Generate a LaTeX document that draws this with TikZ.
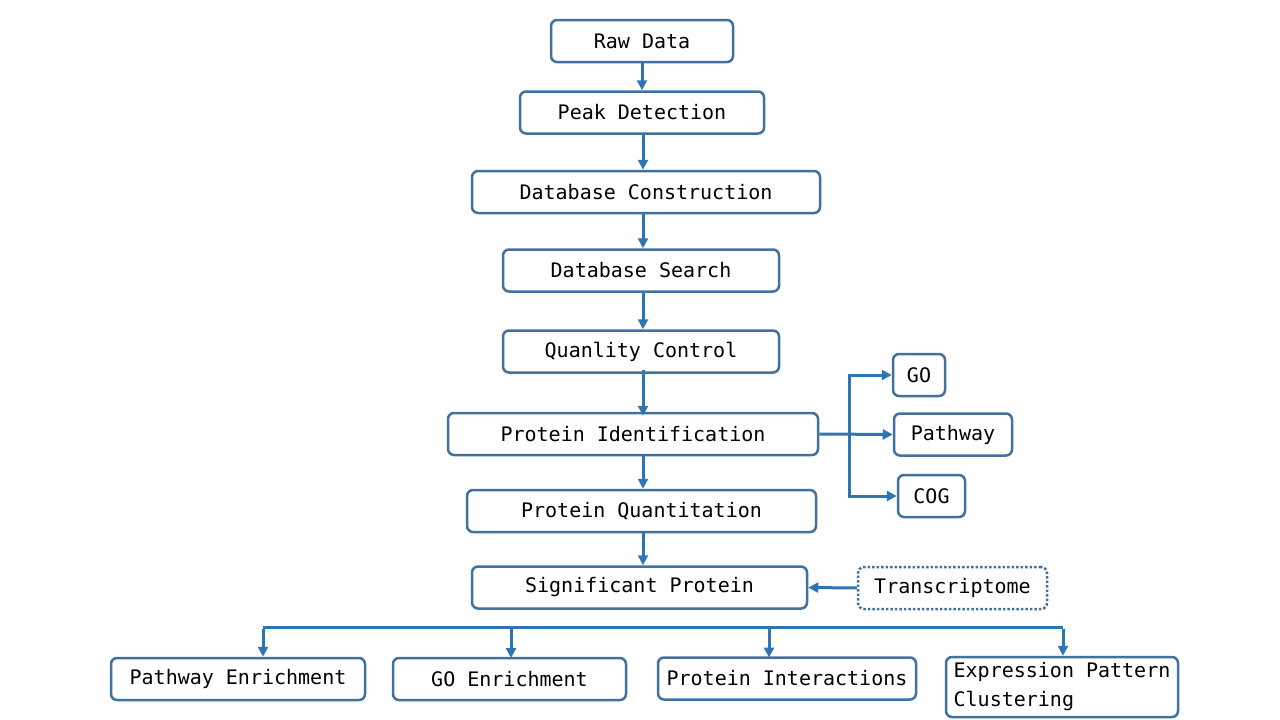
\documentclass[tikz,border=0pt]{standalone}
\usepackage{fontspec}
\setmonofont{DejaVu Sans Mono}
\usepackage{tikz}
\usetikzlibrary{arrows.meta}
\usetikzlibrary{positioning}
\usetikzlibrary{calc}
\definecolor{boxline}{HTML}{41719C}
\definecolor{arrline}{HTML}{2E75B6}
\tikzset{
  flownode/.style = {align=center, inner sep=0pt, text centered,
    font=\ttfamily\fontsize{20}{29}\selectfont},
  fbox/.style = {flownode, rectangle, rounded corners=6pt, draw=boxline,
    line width=2.5pt, minimum height=42pt, fill=white},% boite pleine
  fbox_d/.style = {fbox, dotted, line width=2.5pt},% boite pointillee
  farr/.style = {draw=arrline, line width=3pt, -{Triangle[length=10pt,width=10pt]}}
}

\begin{document}
\begin{tikzpicture}[x=1pt,y=-1pt]
\useasboundingbox (0,0) rectangle (1280,720);

\node [fbox, minimum width=182pt] (raw) at (642,41) {Raw Data};
\node [fbox, minimum width=244pt] (peak) at (642,112.5) {Peak Detection};
\node [fbox, minimum width=348pt] (dbc) at (646,192) {Database Construction};
\node [fbox, minimum width=276pt] (dbs) at (641,270.5) {Database Search};
\node [fbox, minimum width=276pt] (qc) at (641,351.5) {Quanlity Control};
\node [fbox, minimum width=370pt] (pid) at (633,434) {Protein Identification};
\node [fbox, minimum width=349pt] (pq) at (641.5,511) {Protein Quantitation};
\node [fbox, minimum width=335pt] (sig) at (639.5,587.5) {Significant Protein};
\node [fbox_d, minimum width=189pt] (trans) at (952.5,588) {Transcriptome};

\node [fbox, minimum width=52pt] (go) at (919,375) {GO};
\node [fbox, minimum width=118pt] (path) at (953,434.5) {Pathway};
\node [fbox, minimum width=67pt] (cog) at (931.5,496) {COG};

\node [fbox, minimum width=254pt] (pe) at (238,679) {Pathway Enrichment};
\node [fbox, minimum width=233pt] (ge) at (509.5,679) {GO Enrichment};
\node [fbox, minimum width=258pt] (pint) at (787,678.5) {Protein Interactions};
\node [fbox, minimum width=232pt, minimum height=60pt, align=left]
  (epc) at (1062,687) {Expression~Pattern\\Clustering\hphantom{~Pattern}};

% chaine principale
\draw [farr] (raw.south) -- (peak.north);
\draw [farr] (peak.south -| 643,0) -- (dbc.north -| 643,0);
\draw [farr] (dbc.south -| 643,0) -- (dbs.north -| 643,0);
\draw [farr] (dbs.south -| 643,0) -- (qc.north -| 643,0);
\draw [farr] ([yshift=4pt]qc.south -| 643,0) -- ([yshift=-4pt]pid.north -| 643,0);
\draw [farr] (pid.south -| 643,0) -- (pq.north -| 643,0);
\draw [farr] (pq.south -| 643,0) -- (sig.north -| 643,0);

% annotations
\coordinate (fork) at (849,434);
\draw [farr] (pid.east) -- (path.west);
\draw [draw=arrline, line width=3pt] (fork |- go.west) -- (fork |- cog.west);
\draw [farr] ([xshift=-1.5pt]fork |- go.west) -- (go.west);
\draw [farr] ([xshift=-1.5pt]fork |- cog.west) -- (cog.west);

\draw [farr] (trans.west) -- (sig.east);

% enrichissement
\coordinate (busl) at (263,627);
\coordinate (busr) at (1063,627);
\draw [draw=arrline, line width=3pt] (busl) -- (busr);
\draw [farr] ([yshift=-1.5pt]busl) -- (busl |- pe.north);
\draw [farr] (511,625.5) -- (511,658);
\draw [farr] (769,625.5) -- (769,657.5);
\draw [farr] ([yshift=-1.5pt]busr) -- (busr |- epc.north);
\end{tikzpicture}
\end{document}
